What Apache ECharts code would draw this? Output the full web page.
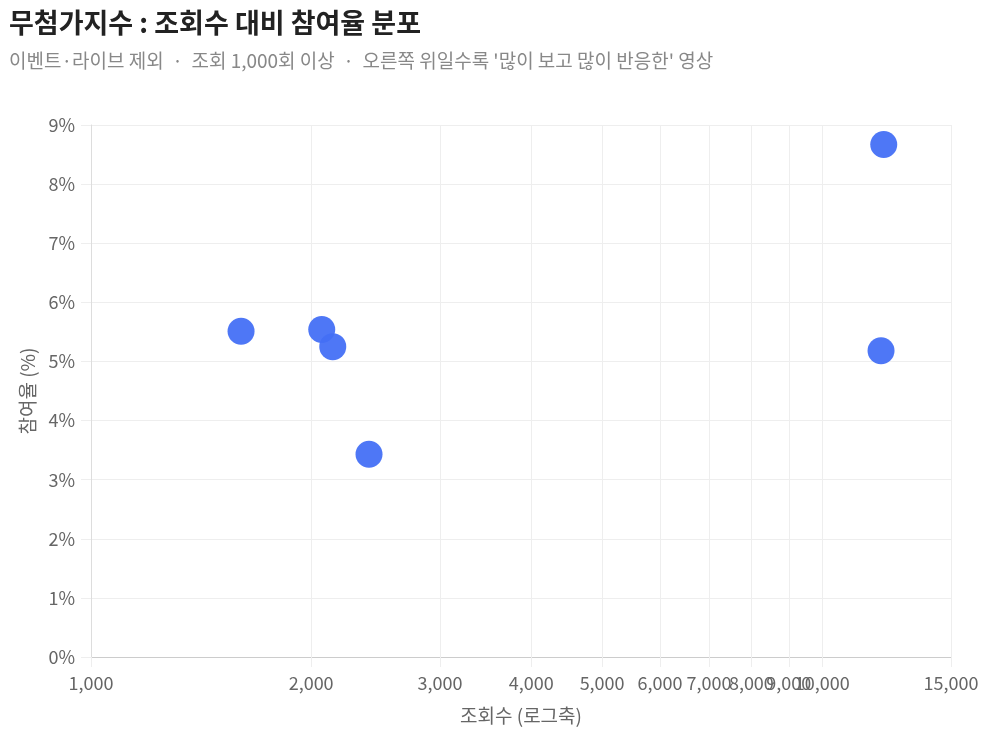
<!DOCTYPE html>
<html>
<head>
<meta charset="utf-8">
<script src="https://cdn.jsdelivr.net/npm/echarts@6/dist/echarts.min.js"></script>
<style>
  html, body { margin: 0; padding: 0; background: #fff; }
  #chart { width: 987px; height: 730px; }
</style>
</head>
<body>
<div id="chart"></div>
<script>
// 조회수 / 참여율 (%)
const views = [1604, 2068, 2141, 2400, 12034, 12137];
const rates = [5.51, 5.54, 5.25, 3.43, 5.18, 8.67];

// x축 눈금 (로그축)
const xTicks = [1000, 2000, 3000, 4000, 5000, 6000, 7000, 8000, 9000, 10000, 15000];

const font = '"Noto Sans CJK KR", "Noto Sans", sans-serif';

const points = views.map((v, i) => [v, rates[i]]);

const chart = echarts.init(document.getElementById('chart'));

const option = {
    animation: false,
    textStyle: { fontFamily: font },
    title: {
        text: '무첨가지수 : 조회수 대비 참여율 분포',
        subtext: "이벤트·라이브 제외  ·  조회 1,000회 이상  ·  오른쪽 위일수록 '많이 보고 많이 반응한' 영상",
        left: 4,
        top: 4,
        itemGap: 15,
        textStyle: { fontFamily: font, fontSize: 27, fontWeight: 'bold', color: '#222' },
        subtextStyle: { fontFamily: font, fontSize: 19, color: '#888' }
    },
    grid: { left: 91, right: 36, top: 125, bottom: 73 },
    xAxis: {
        type: 'log',
        min: 1000,
        max: 15000,
        name: '조회수 (로그축)',
        nameLocation: 'middle',
        nameGap: 49,
        nameTextStyle: { fontFamily: font, fontSize: 19, color: '#666' },
        axisLine: { show: true, lineStyle: { color: '#ccc' } },
        axisTick: { show: true, customValues: xTicks, length: 10, lineStyle: { color: '#eee' } },
        axisLabel: {
            customValues: xTicks,
            margin: 17,
            fontSize: 18,
            color: '#666',
            formatter: v => Math.round(v).toLocaleString('en-US')
        },
        splitLine: { show: true, customValues: xTicks, lineStyle: { color: '#eee' } }
    },
    yAxis: {
        type: 'value',
        min: 0,
        max: 9,
        interval: 1,
        name: '참여율 (%)',
        nameLocation: 'middle',
        nameGap: 54,
        nameTextStyle: { fontFamily: font, fontSize: 19, color: '#666' },
        axisLine: { show: true, lineStyle: { color: '#ddd' } },
        axisTick: { show: true, length: 10, lineStyle: { color: '#eee' } },
        axisLabel: { margin: 16, fontSize: 18, color: '#666', formatter: '{value}%' },
        splitLine: { show: true, lineStyle: { color: '#eee' } }
    },
    series: [{
        type: 'scatter',
        data: points,
        symbolSize: 27,
        itemStyle: { color: '#4570f6', opacity: 0.95 }
    }]
};

chart.setOption(option);
</script>
</body>
</html>
